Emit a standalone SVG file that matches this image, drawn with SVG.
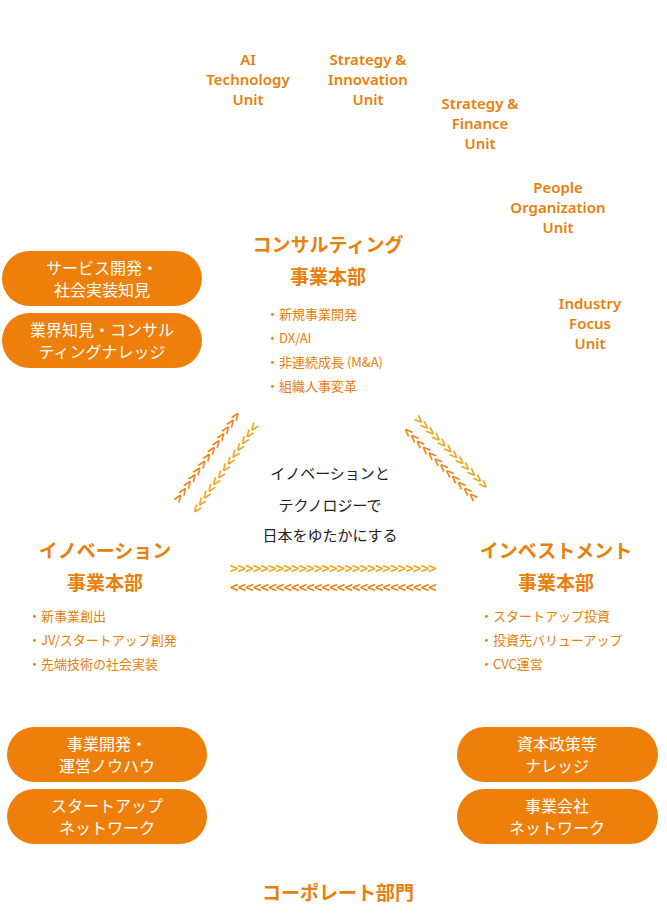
<svg xmlns="http://www.w3.org/2000/svg" width="667" height="923" viewBox="0 0 667 923">
<style>
.u{font-family:"Noto Sans","Noto Sans CJK JP",sans-serif;font-size:15px;font-weight:600;fill:#E8800A;text-anchor:middle}
.h{font-family:"Noto Sans CJK JP",sans-serif;font-size:19px;font-weight:700;fill:#E8800A;text-anchor:middle}
.b{font-family:"Noto Sans CJK JP",sans-serif;font-size:13px;fill:#E8800A}
.p{fill:#EE7F0A}
.pt{font-family:"Noto Sans CJK JP",sans-serif;font-size:16px;fill:#fff;text-anchor:middle}
.c{font-family:"Noto Sans CJK JP",sans-serif;font-size:15px;fill:#222;text-anchor:middle}
.ch{font-family:"DejaVu Sans Mono",monospace;font-size:14px;font-weight:700;letter-spacing:-0.8px}
.d{letter-spacing:-0.1px}
.o{fill:#EE7F0A}.y{fill:#F2A312}
</style>
<g id="units">
<text class="u" x="248" y="65">AI</text><text class="u" x="248" y="85">Technology</text><text class="u" x="248" y="105">Unit</text>
<text class="u" x="368" y="65">Strategy &amp;</text><text class="u" x="368" y="85">Innovation</text><text class="u" x="368" y="105">Unit</text>
<text class="u" x="480" y="109">Strategy &amp;</text><text class="u" x="480" y="129">Finance</text><text class="u" x="480" y="149">Unit</text>
<text class="u" x="558" y="193">People</text><text class="u" x="558" y="213">Organization</text><text class="u" x="558" y="233">Unit</text>
<text class="u" x="590" y="309">Industry</text><text class="u" x="590" y="329">Focus</text><text class="u" x="590" y="349">Unit</text>
</g>
<g id="consulting">
<text class="h" x="328" y="252">コンサルティング</text><text class="h" x="328" y="284">事業本部</text>
<text class="b" x="266" y="319">・新規事業開発</text><text class="b" x="266" y="343">・DX/AI</text><text class="b" x="266" y="367">・非連続成長 (M&amp;A)</text><text class="b" x="266" y="391">・組織人事変革</text>
</g>
<g id="innovation">
<text class="h" x="105" y="558">イノベーション</text><text class="h" x="105" y="590">事業本部</text>
<text class="b" x="28" y="621">・新事業創出</text><text class="b" x="28" y="645">・JV/スタートアップ創発</text><text class="b" x="28" y="669">・先端技術の社会実装</text>
</g>
<g id="investment">
<text class="h" x="556" y="558">インベストメント</text><text class="h" x="556" y="590">事業本部</text>
<text class="b" x="480" y="621">・スタートアップ投資</text><text class="b" x="480" y="645">・投資先バリューアップ</text><text class="b" x="480" y="669">・CVC運営</text>
</g>
<g id="center">
<text class="c" x="330" y="479">イノベーションと</text><text class="c" x="330" y="511">テクノロジーで</text><text class="c" x="330" y="541">日本をゆたかにする</text>
</g>
<g id="pills">
<rect class="p" x="2" y="251" width="200" height="55" rx="27.5"/><text class="pt" x="102" y="274">サービス開発・</text><text class="pt" x="102" y="296">社会実装知見</text>
<rect class="p" x="2" y="313" width="200" height="55" rx="27.5"/><text class="pt" x="102" y="336">業界知見・コンサル</text><text class="pt" x="102" y="358">ティングナレッジ</text>
<rect class="p" x="7" y="727" width="200" height="55" rx="27.5"/><text class="pt" x="107" y="750">事業開発・</text><text class="pt" x="107" y="772">運営ノウハウ</text>
<rect class="p" x="7" y="789" width="200" height="55" rx="27.5"/><text class="pt" x="107" y="812">スタートアップ</text><text class="pt" x="107" y="834">ネットワーク</text>
<rect class="p" x="457" y="727" width="201" height="55" rx="27.5"/><text class="pt" x="557" y="750">資本政策等</text><text class="pt" x="557" y="772">ナレッジ</text>
<rect class="p" x="457" y="789" width="201" height="55" rx="27.5"/><text class="pt" x="557" y="812">事業会社</text><text class="pt" x="557" y="834">ネットワーク</text>
</g>
<g id="connectors">
<text class="ch d o" transform="translate(180,504) rotate(-55)">&gt;&gt;&gt;&gt;&gt;&gt;&gt;&gt;&gt;&gt;&gt;&gt;&gt;</text>
<text class="ch d y" transform="translate(198,515) rotate(-55)">&lt;&lt;&lt;&lt;&lt;&lt;&lt;&lt;&lt;&lt;&lt;&lt;&lt;</text>
<text class="ch d y" transform="translate(413,420) rotate(45)">&gt;&gt;&gt;&gt;&gt;&gt;&gt;&gt;&gt;&gt;&gt;&gt;</text>
<text class="ch d o" transform="translate(402,432) rotate(45)">&lt;&lt;&lt;&lt;&lt;&lt;&lt;&lt;&lt;&lt;&lt;&lt;</text>
<text class="ch y" x="230" y="573">&gt;&gt;&gt;&gt;&gt;&gt;&gt;&gt;&gt;&gt;&gt;&gt;&gt;&gt;&gt;&gt;&gt;&gt;&gt;&gt;&gt;&gt;&gt;&gt;&gt;&gt;&gt;</text>
<text class="ch o" x="230" y="592">&lt;&lt;&lt;&lt;&lt;&lt;&lt;&lt;&lt;&lt;&lt;&lt;&lt;&lt;&lt;&lt;&lt;&lt;&lt;&lt;&lt;&lt;&lt;&lt;&lt;&lt;&lt;</text>
</g>
<g id="corporate"><text class="h" x="338" y="900">コーポレート部門</text></g>
</svg>
